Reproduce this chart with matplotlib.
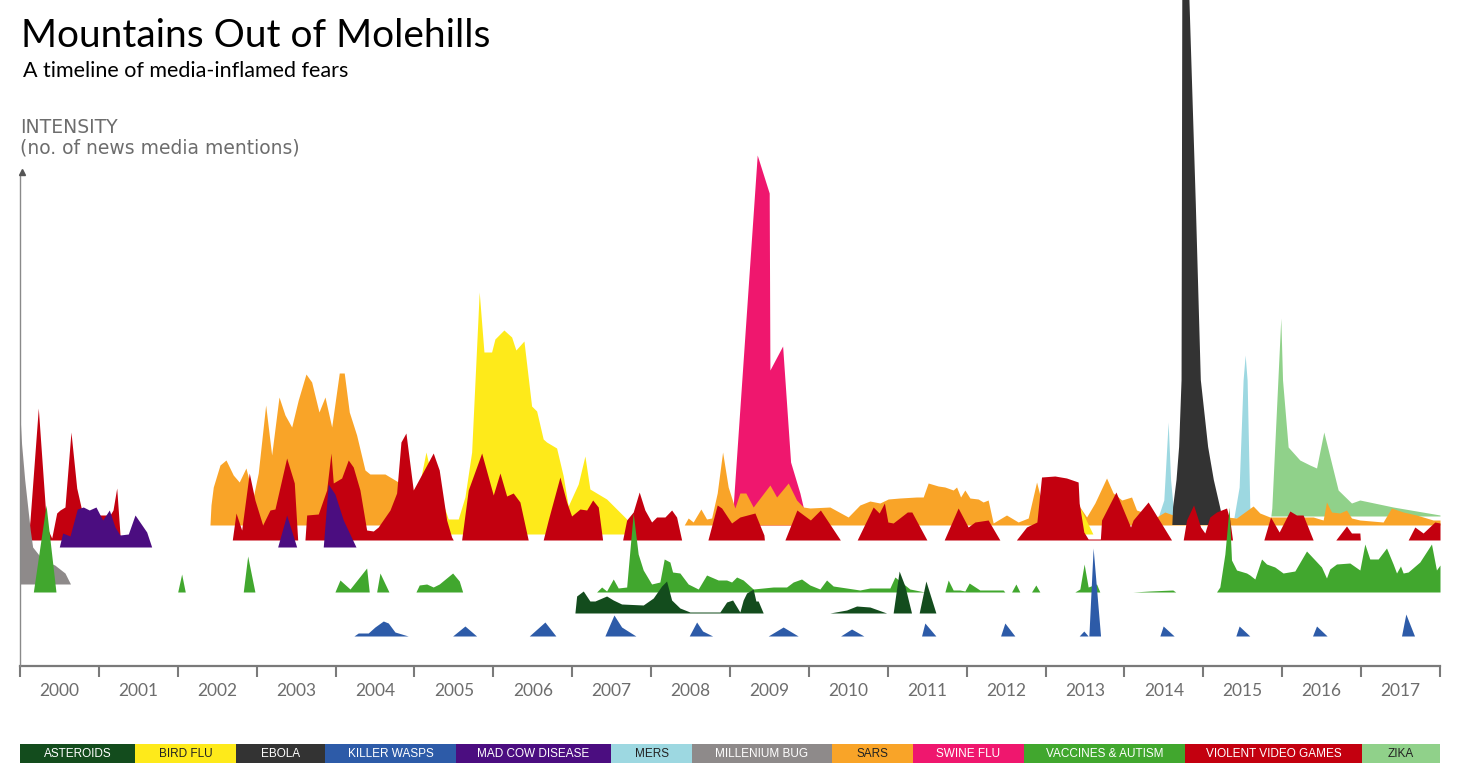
import numpy as np
import matplotlib.pyplot as plt
from matplotlib.patches import Rectangle

# ---------------------------------------------------------------
# data: x in decimal years, h = intensity above each fear's own lane
# ---------------------------------------------------------------
ast_x = [2007.034, 2007.056, 2007.140, 2007.224, 2007.288, 2007.436, 2007.520, 2007.626, 2007.900,
         2008.027, 2008.133, 2008.196, 2008.260, 2008.365, 2008.492, 2008.872, 2008.957,
         2009.033, 2009.125, 2009.167, 2009.210, 2009.294, 2009.328, 2009.357, 2009.421,
         2010.266, 2010.478, 2010.605, 2010.773, 2010.985,
         2011.068, 2011.144, 2011.217, 2011.301, 2011.398, 2011.483, 2011.610]
ast_h = [0, 17, 22, 12, 12, 17, 13, 9, 8,
         15, 27, 32, 13, 5, 1, 1, 11,
         13, 1, 13, 20, 24, 12, 12, 0,
         0, 3, 7, 6, 0,
         0, 42, 27, 0, 0, 32, 0]

bird_x = [2004.521, 2004.626, 2004.731, 2004.943,
          2005.070, 2005.146, 2005.196, 2005.323, 2005.428, 2005.555, 2005.640, 2005.725, 2005.767,
          2005.821, 2005.881, 2005.978,
          2006.020, 2006.134, 2006.232, 2006.286, 2006.388, 2006.485, 2006.549, 2006.632, 2006.675,
          2006.802, 2006.886, 2006.949,
          2007.076, 2007.161, 2007.224, 2007.436, 2007.563, 2007.690, 2007.719,
          2013.409, 2013.447, 2013.600]
bird_h = [0, 12, 25, 40,
          52, 82, 65, 40, 15, 15, 37, 82, 152, 242, 182, 182,
          195, 204, 197, 184, 193, 128, 123, 95, 92, 86, 58, 28,
          50, 78, 45, 35, 25, 15, 0,
          0, 25, 0]

ebola_x = [2014.607, 2014.617, 2014.660, 2014.693, 2014.724, 2014.734, 2014.766, 2014.810,
           2014.905, 2014.968, 2015.061, 2015.133, 2015.209, 2015.260]
ebola_h = [0, 18, 45, 78, 145, 560, 900, 560, 320, 145, 78, 45, 19, 0]

wasps_x = [2004.233, 2004.288, 2004.414, 2004.499, 2004.605, 2004.668, 2004.753, 2004.921,
           2005.484, 2005.640, 2005.788,
           2006.455, 2006.654, 2006.793,
           2007.414, 2007.529, 2007.626, 2007.807,
           2008.483, 2008.577, 2008.653, 2008.780,
           2009.484, 2009.674, 2009.864,
           2010.402, 2010.541, 2010.697,
           2011.428, 2011.470, 2011.610,
           2012.430, 2012.484, 2012.611,
           2013.426, 2013.485, 2013.540, 2013.549, 2013.603, 2013.697,
           2014.449, 2014.491, 2014.630,
           2015.412, 2015.454, 2015.589,
           2016.384, 2016.435, 2016.569,
           2017.512, 2017.567, 2017.677]
wasps_h = [0, 3, 3, 9, 15, 13, 4, 0,
           0, 10, 0,
           0, 14, 0,
           0, 21, 9, 0,
           0, 14, 5, 0,
           0, 9, 0,
           0, 7, 0,
           0, 13, 0,
           0, 13, 0,
           0, 5, 0, 0, 88, 0,
           0, 10, 0,
           0, 10, 0,
           0, 10, 0,
           0, 22, 0]

madcow_x = [2000.498, 2000.541, 2000.634, 2000.726, 2000.802, 2000.878, 2000.963, 2001.048,
            2001.132, 2001.204, 2001.267, 2001.373, 2001.458, 2001.606, 2001.669,
            2003.266, 2003.380, 2003.507,
            2003.844, 2003.907, 2003.992, 2004.098, 2004.259]
madcow_h = [0, 14, 11, 38, 40, 37, 40, 27, 37, 20, 12, 13, 32, 15, 0,
            0, 32, 0,
            0, 63, 53, 27, 0]

mers_x = [2014.423, 2014.499, 2014.554, 2014.585, 2014.617, 2014.651,
          2015.387, 2015.454, 2015.504, 2015.530, 2015.555, 2015.589, 2015.621]
mers_h = [0, 18, 96, 38, 11, 0,
          0, 31, 138, 163, 138, 11, 0]

bug_x = [2000.0, 2000.02, 2000.06, 2000.13, 2000.16, 2000.29, 2000.44, 2000.57, 2000.64]
bug_h = [169, 140, 104, 54, 37, 24, 19, 11, 0]

sars_x = [2002.408, 2002.421, 2002.450, 2002.535, 2002.611, 2002.703, 2002.779, 2002.864, 2002.957,
          2003.020, 2003.114, 2003.190, 2003.283, 2003.359, 2003.444, 2003.527, 2003.625, 2003.697,
          2003.790, 2003.866, 2003.951,
          2004.047, 2004.110, 2004.174, 2004.267, 2004.373, 2004.436, 2004.626, 2004.774, 2004.943,
          2005.070,
          2008.420, 2008.470, 2008.533, 2008.631, 2008.703, 2008.767, 2008.838, 2008.906, 2008.977,
          2009.062, 2009.125, 2009.201, 2009.294, 2009.506, 2009.591, 2009.738, 2009.844, 2009.928,
          2010.013, 2010.266, 2010.498, 2010.646, 2010.773, 2010.900,
          2011.005, 2011.153, 2011.365, 2011.449, 2011.512, 2011.639, 2011.724, 2011.829, 2011.872,
          2011.923, 2011.977,
          2012.041, 2012.146, 2012.209, 2012.272, 2012.336, 2012.505, 2012.653, 2012.780, 2012.886,
          2012.928,
          2013.181, 2013.435, 2013.520, 2013.625, 2013.773, 2013.857, 2013.967,
          2014.090, 2014.153, 2014.407, 2014.512, 2014.617, 2014.681, 2014.729,
          2015.041, 2015.294, 2015.421, 2015.631, 2015.716, 2015.843,
          2016.139, 2016.392, 2016.519, 2016.561, 2016.625, 2016.730, 2016.815, 2016.878, 2016.984,
          2017.279, 2017.385, 2017.533, 2017.701, 2017.913, 2018.0]
sars_h = [0, 20, 38, 60, 65, 50, 43, 57, 28,
          52, 120, 70, 128, 110, 98, 125, 151, 143, 113, 128, 98,
          152, 152, 113, 90, 55, 51, 51, 44, 35,
          0,
          0, 7, 3, 16, 6, 7, 32, 73, 38,
          17, 32, 32, 18, 40, 28, 42, 25, 18,
          17, 18, 8, 20, 24, 22,
          26, 27, 28, 28, 42, 39, 38, 35, 38, 28, 35,
          27, 26, 23, 25, 2, 10, 3, 7, 43, 30,
          30, 18, 8, 22, 47, 32, 25,
          28, 15, 8, 13, 10, 45, 20,
          8, 8, 7, 19, 12, 8,
          8, 8, 5, 23, 13, 12, 15, 7, 5,
          3, 17, 13, 10, 5, 5]

swine_x = [2009.024, 2009.345, 2009.497, 2009.506, 2009.667, 2009.768, 2009.886, 2009.928, 2010.038]
swine_h = [0, 370, 332, 155, 179, 63, 32, 18, 0]

vacc_x = [2000.169, 2000.330, 2000.456,
          2001.999, 2002.049, 2002.095,
          2002.830, 2002.886, 2002.978,
          2003.992, 2004.056, 2004.183, 2004.394, 2004.427,
          2004.521, 2004.563, 2004.677,
          2005.019, 2005.061, 2005.155, 2005.238, 2005.314, 2005.484, 2005.568, 2005.611,
          2007.309, 2007.373, 2007.436, 2007.520, 2007.583, 2007.690, 2007.773, 2007.836, 2007.900,
          2008.006, 2008.111, 2008.166, 2008.238, 2008.272, 2008.365, 2008.470, 2008.597, 2008.703,
          2008.850, 2008.957, 2009.020, 2009.084, 2009.167, 2009.294, 2009.548, 2009.717, 2009.801,
          2009.907, 2010.013, 2010.139, 2010.224, 2010.308, 2010.646, 2010.773, 2011.027, 2011.090,
          2011.280, 2011.407, 2011.470,
          2011.724, 2011.766, 2011.829, 2011.914, 2011.977, 2012.032, 2012.167, 2012.462, 2012.484,
          2012.569, 2012.624, 2012.674,
          2012.822, 2012.877, 2012.928,
          2013.371, 2013.435, 2013.489, 2013.540, 2013.646, 2013.688,
          2014.106, 2014.322, 2014.613, 2014.650,
          2015.167, 2015.209, 2015.273, 2015.327, 2015.357, 2015.421, 2015.548, 2015.589, 2015.653,
          2015.738, 2015.801, 2015.906, 2016.011, 2016.160, 2016.308, 2016.498, 2016.561, 2016.603,
          2016.688, 2016.857, 2016.984, 2017.047, 2017.110, 2017.216, 2017.322, 2017.406, 2017.449,
          2017.499, 2017.533, 2017.596, 2017.744, 2017.892, 2017.955, 2018.0]
vacc_h = [0, 87, 0,
          0, 18, 0,
          0, 36, 0,
          0, 12, 3, 24, 0,
          0, 19, 0,
          0, 7, 8, 5, 8, 19, 11, 0,
          0, 5, 1, 13, 4, 5, 79, 38, 22,
          8, 10, 33, 30, 20, 19, 8, 3, 17,
          12, 12, 10, 15, 12, 3, 5, 5, 10,
          13, 7, 3, 12, 6, 2, 4, 4, 15,
          3, 1, 0,
          0, 12, 2, 2, 1, 9, 2, 2, 0,
          0, 8, 0,
          0, 7, 0,
          0, 3, 28, 5, 8, 0,
          0, 1, 2, 0,
          0, 5, 38, 85, 32, 22, 19, 17, 13,
          33, 28, 25, 19, 21, 41, 25, 14, 23,
          28, 29, 22, 48, 33, 33, 44, 28, 19,
          26, 19, 20, 30, 48, 22, 27]

violent_x = [2000.101, 2000.127, 2000.232, 2000.338, 2000.402, 2000.465, 2000.507, 2000.570, 2000.646,
             2000.719, 2000.782, 2000.951, 2001.141, 2001.179, 2001.226, 2001.268, 2001.280,
             2002.691, 2002.738, 2002.810, 2002.906, 2002.978, 2003.076, 2003.169, 2003.232, 2003.380,
             2003.477, 2003.520,
             2003.612, 2003.634, 2003.781, 2003.887, 2003.942, 2003.971, 2004.077, 2004.161, 2004.224,
             2004.309, 2004.394, 2004.478, 2004.541, 2004.690, 2004.774, 2004.829, 2004.892, 2004.985,
             2005.238, 2005.314, 2005.408, 2005.471, 2005.492,
             2005.598, 2005.682, 2005.852, 2005.999, 2006.084, 2006.169, 2006.252, 2006.337, 2006.442,
             2006.632, 2006.696, 2006.844, 2006.929, 2006.992, 2007.098, 2007.183, 2007.259, 2007.330,
             2007.385,
             2007.639, 2007.690, 2007.773, 2007.849, 2007.921, 2008.006, 2008.070, 2008.175, 2008.260,
             2008.323, 2008.387,
             2008.720, 2008.838, 2008.894, 2009.020, 2009.125, 2009.316, 2009.430, 2009.436,
             2009.696, 2009.848, 2010.019, 2010.146, 2010.399,
             2010.612, 2010.815, 2010.891, 2010.957, 2011.001, 2011.068, 2011.248, 2011.305, 2011.496,
             2011.715, 2011.892, 2012.019, 2012.104, 2012.272, 2012.421,
             2012.630, 2012.759, 2012.890, 2012.949, 2013.118, 2013.266, 2013.413, 2013.426, 2013.485,
             2013.540, 2013.695, 2013.710, 2013.892, 2014.077, 2014.110, 2014.300, 2014.597,
             2014.745, 2014.787, 2014.876, 2014.965, 2015.019, 2015.082, 2015.167, 2015.294, 2015.336,
             2015.370,
             2015.767, 2015.852, 2015.961, 2016.097, 2016.181, 2016.265, 2016.392,
             2016.679, 2016.815, 2016.878, 2016.984, 2016.990,
             2017.596, 2017.681, 2017.786, 2017.934, 2018.0]
violent_h = [0, 20, 132, 13, 2, 27, 30, 33, 108,
             52, 30, 25, 25, 30, 52, 5, 0,
             0, 27, 10, 67, 40, 15, 30, 31, 82,
             57, 0,
             0, 25, 26, 50, 87, 57, 62, 80, 73,
             50, 10, 9, 13, 30, 47, 98, 107, 50,
             87, 70, 20, 3, 0,
             0, 50, 87, 45, 67, 44, 47, 38, 0,
             0, 20, 63, 38, 24, 31, 30, 40, 33,
             0,
             0, 20, 28, 48, 30, 18, 23, 23, 30,
             23, 0,
             0, 35, 32, 17, 23, 27, 5, 0,
             0, 30, 20, 30, 0,
             0, 33, 27, 37, 18, 17, 28, 28, 0,
             0, 32, 13, 18, 20, 0,
             0, 13, 18, 63, 64, 62, 58, 37, 8,
             1, 1, 20, 48, 13, 20, 38, 0,
             0, 20, 35, 13, 7, 23, 28, 32, 20,
             0,
             0, 23, 8, 29, 25, 25, 0,
             0, 14, 7, 7, 0,
             0, 13, 7, 18, 17]

zika_x = [2015.856, 2015.868, 2015.982, 2016.004, 2016.075, 2016.223, 2016.350, 2016.435, 2016.527,
          2016.709, 2016.878, 2016.984, 2017.406, 2018.0]
zika_h = [0, 8, 198, 136, 69, 56, 51, 48, 84, 26, 13, 16, 9, 1]

years = list(range(2000, 2018))

# ---------------------------------------------------------------
# layout / style
# ---------------------------------------------------------------
W, H = 1460, 767
grey_txt = '#6d6d6d'

# name, x, h, lane offset, colour, z-order
series = [
    ('SWINE FLU', swine_x, swine_h, 141, '#ef176e', 1),
    ('MERS', mers_x, mers_h, 148, '#9dd8e1', 1),
    ('ZIKA', zika_x, zika_h, 150, '#90d18a', 1),
    ('SARS', sars_x, sars_h, 141, '#f9a428', 2),
    ('BIRD FLU', bird_x, bird_h, 132, '#feea1a', 3),
    ('EBOLA', ebola_x, ebola_h, 141, '#333333', 4),
    ('VIOLENT VIDEO GAMES', violent_x, violent_h, 126, '#c3000f', 5),
    ('MAD COW DISEASE', madcow_x, madcow_h, 119, '#4b0d80', 6),
    ('MILLENIUM BUG', bug_x, bug_h, 82, '#8e8a8a', 7),
    ('VACCINES & AUTISM', vacc_x, vacc_h, 74, '#41a72e', 8),
    ('ASTEROIDS', ast_x, ast_h, 53, '#134c1d', 9),
    ('KILLER WASPS', wasps_x, wasps_h, 30, '#2d5ba8', 10),
]

fig = plt.figure(figsize=(W / 100, H / 100), dpi=100)
fig.patch.set_facecolor('white')
ax = fig.add_axes([20 / W, (H - 666) / H, 1420 / W, 666 / H])

for name, x, h, base, col, z in series:
    x = np.array(x, dtype=float)
    h = np.array(h, dtype=float)
    ax.fill_between(x, base, base + h, color=col, lw=0, zorder=z)

ax.set_xlim(2000, 2018)
ax.set_ylim(0, 666)
for s in ['top', 'right', 'left']:
    ax.spines[s].set_visible(False)
ax.spines['bottom'].set_color('#7a7a7a')
ax.spines['bottom'].set_linewidth(1.6)
ax.set_yticks([])

ax.set_xticks(range(2000, 2019))
ax.set_xticklabels([])
ax.tick_params(axis='x', which='major', length=8, width=1.5, color='#7a7a7a', direction='out')
ax.set_xticks([y + 0.5 for y in years], minor=True)
ax.set_xticklabels([str(y) for y in years], minor=True, fontsize=12.5,
                   color=grey_txt, family=['Lato', 'DejaVu Sans'])
ax.tick_params(axis='x', which='minor', length=0, pad=12)

# intensity axis with arrow head
ax.plot([2000, 2000], [0, 492], color='#8a8a8a', lw=1, clip_on=False, zorder=20)
ax.plot([2000.02], [494], marker='^', ms=5, color='#555555', clip_on=False, zorder=21)

# titles
fig.text(21 / W, 1 - 47 / H, 'Mountains Out of Molehills', fontsize=28,
         family=['Lato', 'DejaVu Sans'], color='black', va='baseline')
fig.text(23 / W, 1 - 77 / H, 'A timeline of media-inflamed fears', fontsize=15.5,
         family=['Lato', 'DejaVu Sans'], color='black', va='baseline')
fig.text(20 / W, 1 - 133 / H, 'INTENSITY', fontsize=13.5,
         family=['DejaVu Sans'], color=grey_txt, va='baseline')
fig.text(20 / W, 1 - 154 / H, '(no. of news media mentions)', fontsize=13.5,
         family=['DejaVu Sans'], color=grey_txt, va='baseline')

# legend strip along the bottom
legend_names = ['ASTEROIDS', 'BIRD FLU', 'EBOLA', 'KILLER WASPS', 'MAD COW DISEASE', 'MERS',
                'MILLENIUM BUG', 'SARS', 'SWINE FLU', 'VACCINES & AUTISM',
                'VIOLENT VIDEO GAMES', 'ZIKA']
colour_of = {s[0]: s[4] for s in series}
dark_text = {'BIRD FLU', 'MERS', 'SARS', 'ZIKA'}
edges = [20, 135, 236, 325, 456, 611, 692, 832, 913, 1024, 1185, 1362, 1440]
for i, name in enumerate(legend_names):
    x0, x1 = edges[i], edges[i + 1]
    fig.add_artist(Rectangle((x0 / W, (H - 763) / H), (x1 - x0) / W, 19 / H,
                             transform=fig.transFigure, facecolor=colour_of[name],
                             edgecolor='none'))
    fig.text((x0 + x1) / 2 / W, 1 - 754 / H, name, fontsize=8.5,
             family=['Liberation Sans', 'DejaVu Sans'],
             color='#222222' if name in dark_text else 'white',
             ha='center', va='center')

fig.savefig('out.png', dpi=100)
